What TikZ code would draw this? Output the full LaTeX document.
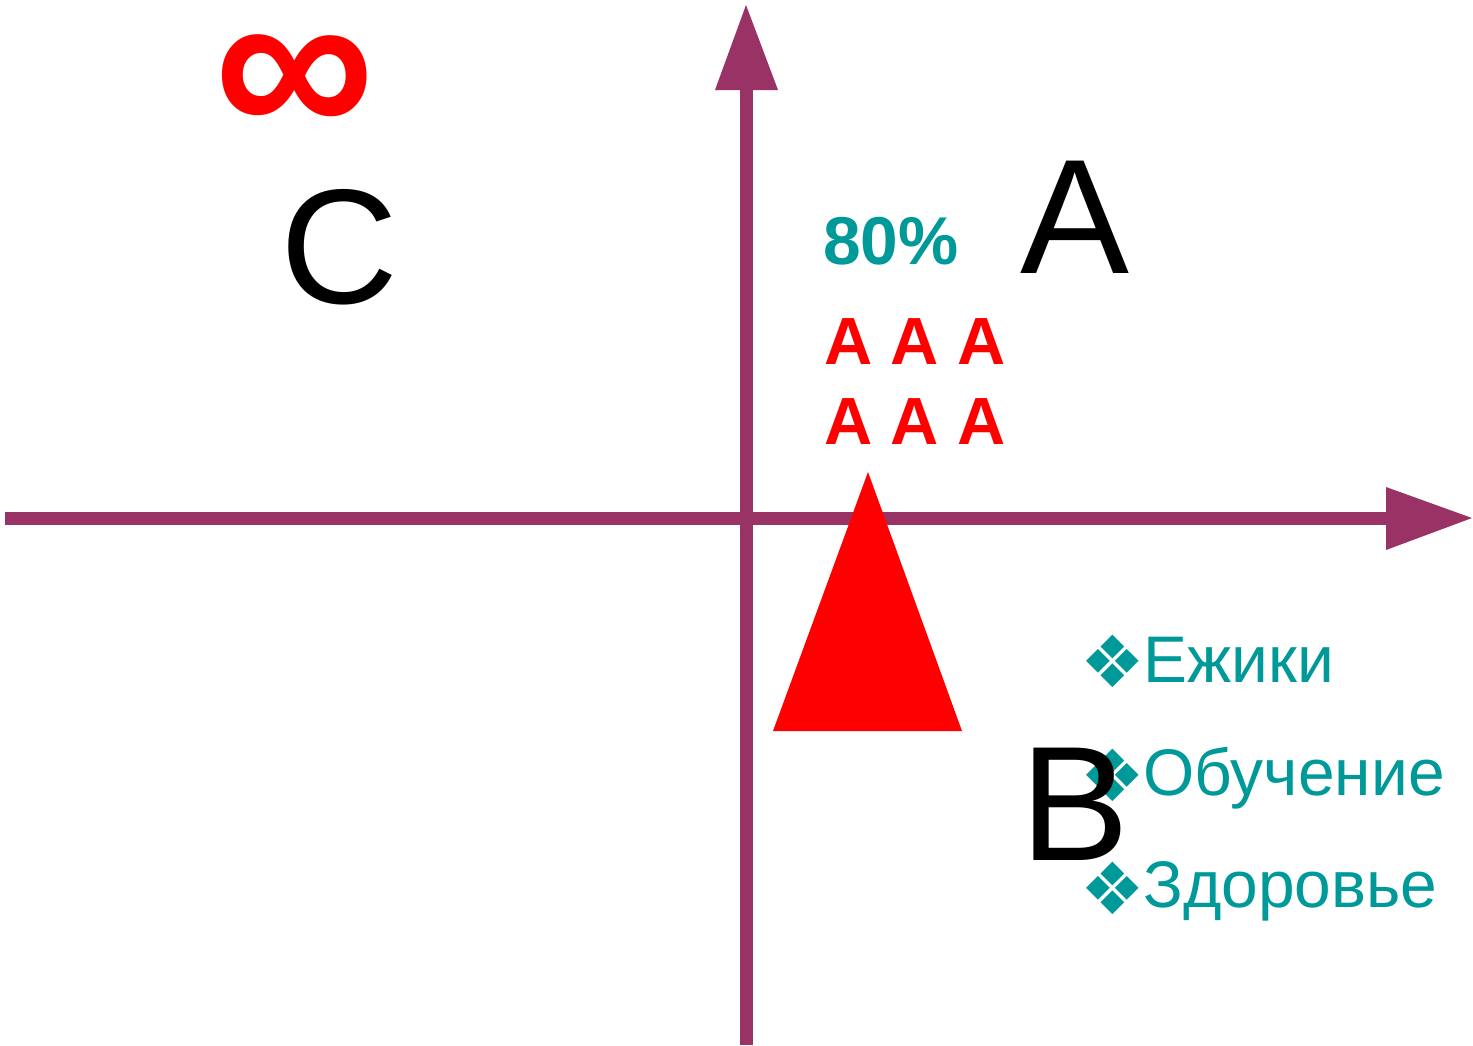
\documentclass[tikz,border=0pt]{standalone}
\usepackage{fontspec}
\setmainfont{Liberation Sans}
\newfontfamily\symfont{DejaVu Sans}
\definecolor{axiscol}{RGB}{153,51,102}
\definecolor{tealcol}{RGB}{0,153,153}
\definecolor{redcol}{RGB}{255,0,0}
\begin{document}
\begin{tikzpicture}[x=0.02cm,y=-0.02cm,
  axis/.style={draw=axiscol,line width=0.26cm},
  axhead/.style={fill=axiscol},
  bigletter/.style={inner sep=0pt,anchor=base,font=\fontsize{93}{100}\selectfont,text=black},
  redA/.style={inner sep=0pt,anchor=base,font=\fontsize{38}{40}\selectfont\bfseries,text=redcol},
  item/.style={inner sep=0pt,anchor=base west,font=\fontsize{37.5}{40}\selectfont,text=tealcol},
  bul/.style={inner sep=0pt,font=\fontsize{41}{44}\selectfont\symfont,text=tealcol}]
\useasboundingbox (0,0) rectangle (1473,1045);
% axes
\coordinate (vbot) at (746,1045);
\coordinate (vtop) at (746,90);
\coordinate (hl) at (5,518);
\coordinate (hr) at (1386,518);
\draw[axis] (hl) -- (hr);
\fill[axhead] (1386,487) -- (1386,550) -- (1472,518) -- cycle;
\draw[axis] (vbot) -- (vtop);
\fill[axhead] (715,90) -- (778,90) -- (746,5) -- cycle;
% triangle
\fill[redcol] (868,472) -- (962,731) -- (773,731) -- cycle;
% infinity
\node[inner sep=0pt,text=redcol,font=\fontsize{128}{128}\selectfont\bfseries] (inf) at (295,88) {∞};
% big letters
\node[bigletter] (C) at (339,303) {C};
\node[bigletter] (A) at (1075,273) {A};
% 80%
\node[inner sep=0pt,anchor=base,text=tealcol,font=\fontsize{38.5}{42}\selectfont\bfseries] (pct) at (891,264) {80\%};
% red A grid
\node[redA] (a1) at (849,364) {A};
\node[redA] (a2) at (915,364) {A};
\node[redA] (a3) at (982,364) {A};
\node[redA] (a4) at (849,444) {A};
\node[redA] (a5) at (915,444) {A};
\node[redA] (a6) at (982,444) {A};
% list
\node[bul] (b1) at (1113,661) {❖};
\node[bul] (b2) at (1113,775) {❖};
\node[bul] (b3) at (1113,888) {❖};
\node[bigletter] (B) at (1075,860) {B};
\node[item] (t1) at (1143,682) {Ежики};
\node[item] (t2) at (1143,795) {Обучение};
\node[item] (t3) at (1143,907) {Здоровье};
\end{tikzpicture}
\end{document}
